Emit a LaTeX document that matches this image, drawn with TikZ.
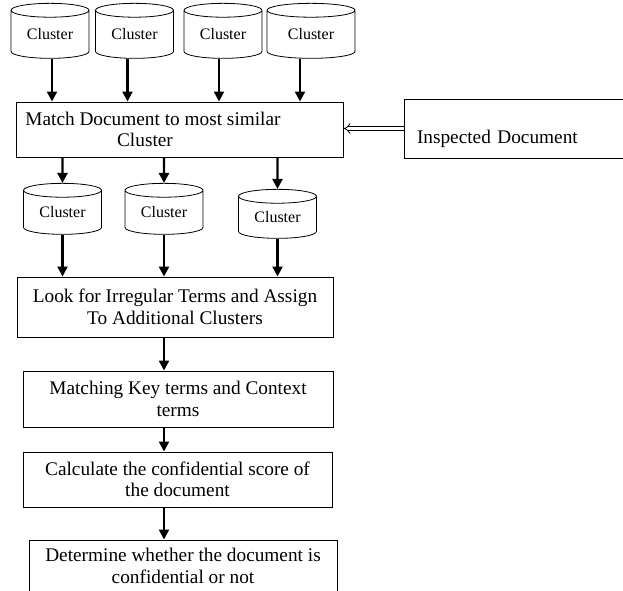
\documentclass[tikz,border=0pt]{standalone}
\usepackage{fontspec}
\setmainfont{Liberation Serif}
\usetikzlibrary{shapes.geometric,arrows.meta}
\begin{document}
\begin{tikzpicture}[x=1pt,y=-1pt,every node/.style={font=\fontsize{19.3}{21.5}\selectfont},
  clus/.style={cylinder,shape border rotate=90,draw,line width=.8pt,aspect=.3,minimum width=78pt,minimum height=55pt,inner sep=0pt,font=\fontsize{16}{17}\selectfont},
  box/.style={draw,line width=1pt,align=center,inner sep=2pt},
  arr/.style={line width=2.3pt,-{Triangle[length=10pt,width=10pt]}},
  dbl/.style={draw=black,double=white,double distance=2.8pt,line width=.8pt,-{Implies[length=8pt]}}]
\useasboundingbox (0,0) rectangle (623,590);
\node[clus] (c1) at (50,34.5) {Cluster};\node[clus] (c2) at (134.5,34.5) {Cluster};\node[clus] (c3) at (223,34.5) {Cluster};\node[clus,minimum width=88pt] (c4) at (311,34.5) {Cluster};
\node[box,minimum width=327pt,minimum height=55pt] (m) at (179.5,129.5) {Match Document to most similar\hspace*{53pt}\\Cluster\hspace*{69pt}};
\node[box,minimum width=236pt,minimum height=59pt,text width=210pt,align=left,inner xsep=13pt,text height=29pt,text depth=0pt] (ins) at (522,128.5) {Inspected Document};
\node[clus,minimum height=51pt] (d1) at (62.5,212.5) {Cluster};\node[clus,minimum height=51pt] (d2) at (164,212.5) {Cluster};\node[clus,minimum height=49pt] (d3) at (277.5,217.5) {Cluster};
\node[box,minimum width=316pt,minimum height=60pt] (b2) at (175,307) {Look for Irregular Terms and Assign\\To Additional Clusters};
\node[box,minimum width=310pt,minimum height=56pt] (b3) at (178,399) {Matching Key terms and Context\\terms};
\node[box,minimum width=309pt,minimum height=55pt] (b4) at (177.5,479.5) {Calculate the confidential score of\\the document};
\node[box,minimum width=308pt,minimum height=52pt] (b5) at (183,566) {Determine whether the document is\\confidential or not};
% clusters into matching
\draw[arr] ([xshift=2pt]c1.south) -- ([xshift=2pt]c1.south |- m.north);
\draw[arr] ([xshift=-7pt]c2.south) -- ([xshift=-7pt]c2.south |- m.north);
\draw[arr] ([xshift=-4pt]c3.south) -- ([xshift=-4pt]c3.south |- m.north);
\draw[arr] ([xshift=-11pt]c4.south) -- ([xshift=-11pt]c4.south |- m.north);
\draw[dbl] (ins.west) -- (ins.west -| m.east);
\draw[arr] (m.south -| d1) -- (d1.north);\draw[arr] (m.south -| d2) -- (d2.north);\draw[arr] (m.south -| d3) -- (d3.north);
\draw[arr] (d1.south) -- (d1.south |- b2.north);\draw[arr] (d2.south) -- (d2.south |- b2.north);\draw[arr] (d3.south) -- (d3.south |- b2.north);
% steps
\draw[arr] (b2.south -| d2) -- (b3.north -| d2);
\draw[arr] (b3.south -| d2) -- (b4.north -| d2);
\draw[arr] (b4.south -| d2) -- (b5.north -| d2);
\end{tikzpicture}
\end{document}
